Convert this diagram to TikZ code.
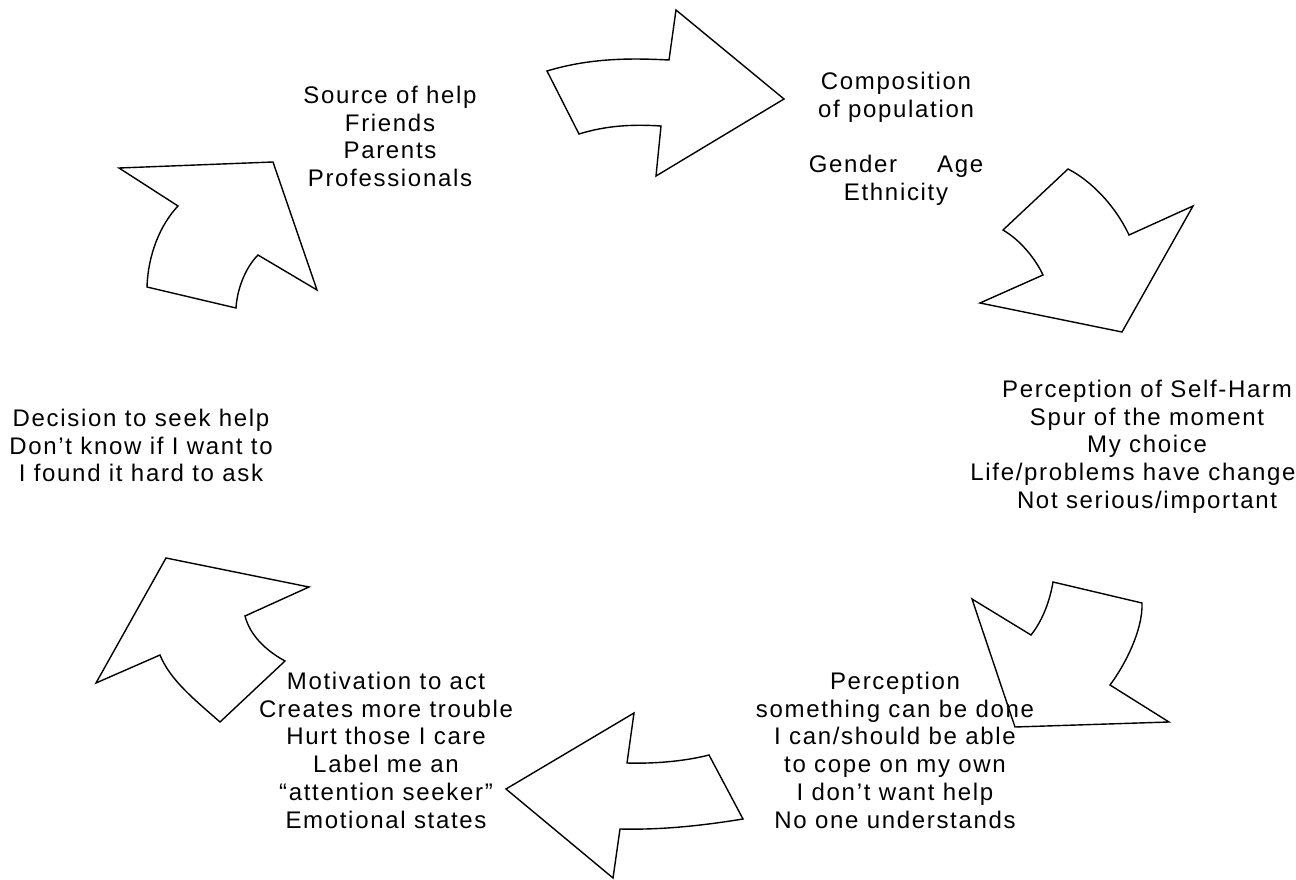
\documentclass[tikz,border=0pt]{standalone}
\usepackage{fontspec}
\newfontfamily\cyclefont{Liberation Sans}[LetterSpace=7]
\usepackage{tikz}

\tikzset{
  bigarrow/.style={draw, line width=1.4pt, line join=miter, fill=white},
  stage/.style={align=center, inner sep=0pt, anchor=north, font=\cyclefont\fontsize{24}{27.7}\selectfont}
}

\begin{document}
\begin{tikzpicture}[x=1pt,y=-1pt]
\useasboundingbox (0,0) rectangle (1296,880);
%\draw[help lines, color=gray!30] (0,0) grid[step=100] (1296,880);
% top arrow
\draw[bigarrow] (547,71) .. controls (590,58) and (630,58) .. (669,60) -- (676,10) -- (784,99)
  -- (656,176) -- (661,126) .. controls (630,124) and (605,126) .. (579,134) -- cycle;
% upper right arrow
\draw[bigarrow] (1068,169) .. controls (1090,180) and (1115,205) .. (1129,235) -- (1193,206)
  -- (1122,332) -- (980,303) -- (1043,275) .. controls (1035,258) and (1020,240) .. (1003,230) -- cycle;
% lower right arrow
\draw[bigarrow] (972,599) -- (1031,635) .. controls (1043,620) and (1050,600) .. (1053,582) -- (1142,603)
  .. controls (1143,630) and (1125,665) .. (1110,685) -- (1169,722) -- (1015,727) -- cycle;
% bottom arrow
\draw[bigarrow] (506,789) -- (634,713) -- (627,763) .. controls (660,764) and (690,760) .. (709,755)
  -- (743,819) .. controls (700,826) and (660,830) .. (620,829) -- (613,878) -- cycle;
% lower left arrow
\draw[bigarrow] (166,558) -- (309,587) -- (245,616) .. controls (250,635) and (265,650) .. (285,661)
  -- (220,722) .. controls (195,700) and (170,680) .. (160,655) -- (96,683) -- cycle;
% upper left arrow
\draw[bigarrow] (119,168) -- (273,162) -- (317,290) -- (258,255) .. controls (245,268) and (237,290) .. (236,308)
  -- (147,287) .. controls (148,255) and (160,225) .. (178,206) -- cycle;

\node[stage] (population) at (896,72) {Composition\\of population\\[27.7pt]Gender\hspace{40pt}Age\\Ethnicity};
\node[stage] (selfharm) at (1147,380) {Perception of Self-Harm\\Spur of the moment\\My choice\\Life/problems have change\rule{28pt}{0pt}\\Not serious/important};
\node[stage] (canbedone) at (895,672) {Perception\\something can be done\\I can/should be able\\to cope on my own\\I don’t want help\\No one understands};
\node[stage] (motivation) at (386,672) {Motivation to act\\Creates more trouble\\Hurt those I care\\Label me an\\“attention seeker”\\Emotional states};
\node[stage] (decision) at (141,409) {Decision to seek help\\Don’t know if I want to\\I found it hard to ask};
\node[stage] (source) at (390,86) {Source of help\\Friends\\Parents\\Professionals};
\end{tikzpicture}
\end{document}
